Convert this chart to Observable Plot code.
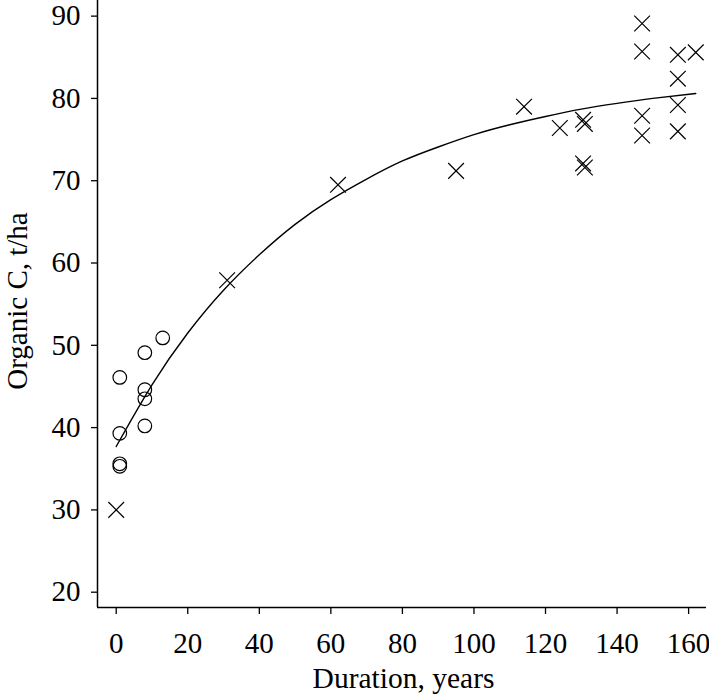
<!DOCTYPE html>
<html>
<head>
<meta charset="utf-8">
<script src="https://cdn.jsdelivr.net/npm/d3@7"></script>
<script src="https://cdn.jsdelivr.net/npm/@observablehq/plot@0.6"></script>
<style>
  html, body { margin: 0; padding: 0; background: #fff; }
</style>
</head>
<body>
<div id="chart"></div>
<script>
// Circles (early observations)
const circleYears = [1, 1, 1, 1, 8, 8, 8, 8, 13];
const circleVals  = [46.1, 39.3, 35.3, 35.6, 49.1, 44.6, 43.5, 40.2, 50.9];

// Crosses
const crossYears = [0, 31, 62, 95, 114, 124, 130.5, 131, 130.5, 131, 147, 147, 147, 147, 157, 157, 157, 157, 162];
const crossVals  = [30.0, 57.9, 69.5, 71.2, 79.0, 76.4, 77.4, 76.9, 72.1, 71.6, 89.1, 85.7, 77.9, 75.5, 85.3, 82.4, 79.2, 76.0, 85.6];

// Fitted curve
const curveYears = [0, 10, 20, 30, 40, 50, 60, 70, 80, 90, 100, 110, 120, 130, 140, 150, 162];
const curveVals  = [37.7, 45.2, 51.5, 56.7, 61.0, 64.7, 67.7, 70.2, 72.4, 74.1, 75.6, 76.8, 77.8, 78.7, 79.4, 80.0, 80.6];

const xTicks = [0, 20, 40, 60, 80, 100, 120, 140, 160];
const yTicks = [20, 30, 40, 50, 60, 70, 80, 90];
const xDomain = [-5.23, 165.0];
const yDomain = [18.14, 91.9];

const circles = circleYears.map((x, i) => ({x, y: circleVals[i]}));
const crosses = crossYears.map((x, i) => ({x, y: crossVals[i]}));
const curve = curveYears.map((x, i) => ({x, y: curveVals[i]}));

const chart = Plot.plot({
  width: 709,
  height: 695,
  marginLeft: 97,
  marginRight: 3,
  marginTop: 0,
  marginBottom: 88,
  style: {fontFamily: "'Liberation Serif', 'Times New Roman', serif", fontSize: "29px", color: "black", background: "white"},
  x: {domain: xDomain},
  y: {domain: yDomain},
  marks: [
    Plot.axisX({ticks: xTicks, tickSize: 7, tickPadding: 18, label: null, strokeWidth: 1.3, fontSize: 29}),
    Plot.axisY({ticks: yTicks, tickSize: 6, tickPadding: 11, label: null, strokeWidth: 1.3, fontSize: 29}),
    Plot.ruleY([yDomain[0]], {stroke: "black", strokeWidth: 1.5}),
    Plot.ruleX([xDomain[0]], {stroke: "black", strokeWidth: 1.5}),
    Plot.line(curve, {x: "x", y: "y", curve: "natural", stroke: "black", strokeWidth: 1.4}),
    Plot.dot(circles, {x: "x", y: "y", r: 6.8, stroke: "black", strokeWidth: 1.2, fill: "none"}),
    Plot.dot(crosses, {x: "x", y: "y", symbol: "times", r: 7.2, stroke: "black", strokeWidth: 1.2}),
    Plot.text(["Organic C, t/ha"], {frameAnchor: "left", rotate: -90, dx: -71, dy: -3, lineAnchor: "bottom", textAnchor: "middle", fontSize: 29}),
    Plot.text(["Duration, years"], {frameAnchor: "bottom", dy: 80, dx: 1.5, lineAnchor: "bottom", textAnchor: "middle", fontSize: 29.5})
  ]
});
document.getElementById("chart").appendChild(chart);
</script>
</body>
</html>
